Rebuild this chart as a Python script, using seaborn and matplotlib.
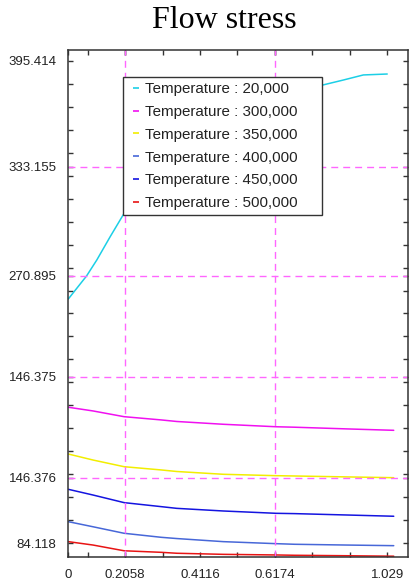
import numpy as np
import pandas as pd
import matplotlib
matplotlib.use("Agg")
import matplotlib.pyplot as plt
from matplotlib.lines import Line2D
import seaborn as sns

# Curves (strain vs flow stress)
strain = [0, 0.08, 0.18, 0.30, 0.35, 0.50, 0.67, 0.73, 0.90, 1.05]
stress_300 = [171.8, 169.4, 165.7, 163.6, 162.6, 160.8, 159.2, 158.9, 157.8, 156.9]
stress_350 = [141.6, 137.7, 133.4, 131.3, 130.3, 128.5, 127.6, 127.4, 126.8, 126.3]
stress_400 = [97.9, 94.6, 90.4, 87.8, 87.0, 85.0, 83.7, 83.3, 82.8, 82.4]
stress_450 = [118.8, 115.1, 110.2, 107.6, 106.5, 104.8, 103.3, 103.1, 102.2, 101.4]
stress_500 = [85.0, 82.8, 79.1, 78.1, 77.5, 76.8, 76.4, 76.2, 75.9, 75.6]

strain_20 = [0, 0.059, 0.092, 0.135, 0.177, 0.264, 0.360, 0.457, 0.555,
             0.651, 0.748, 0.821, 0.887, 0.952, 1.029]
stress_20 = [241.7, 256.6, 266.9, 281.9, 296.0, 318.6, 337.9, 353.4, 365.1,
             372.8, 377.3, 379.9, 383.1, 386.4, 387.0]

labels = ["Temperature : 20,000", "Temperature : 300,000", "Temperature : 350,000",
          "Temperature : 400,000", "Temperature : 450,000", "Temperature : 500,000"]
colors = ["#1ccfe6", "#f010f0", "#f2ee00", "#4767d8", "#1414e0", "#e81414"]

# tick labels as printed on the chart (positions don't follow the labels)
xtick_pos = [0, 0.1835, 0.4251, 0.6666, 1.029]
xtick_lab = ["0", "0.2058", "0.4116", "0.6174", "1.029"]
ytick_pos = [395.414, 327.15, 256.56, 191.52, 126.29, 84.118]
ytick_lab = ["395.414", "333.155", "270.895", "146.375", "146.376", "84.118"]
vgrid = [0.1835, 0.6666]
hgrid = [327.15, 256.56, 191.52, 126.29]

series = [(strain_20, stress_20), (strain, stress_300), (strain, stress_350),
          (strain, stress_400), (strain, stress_450), (strain, stress_500)]
df = pd.concat([pd.DataFrame({"strain": x, "stress": y, "curve": lab})
                for (x, y), lab in zip(series, labels)], ignore_index=True)

sns.set_theme(style="ticks")
plt.rcParams["font.family"] = ["Liberation Sans", "DejaVu Sans"]

fig = plt.figure(figsize=(4.2, 5.87), dpi=100)
ax = fig.add_axes([0.1626, 0.0516, 0.8081, 0.8632])

sns.lineplot(data=df, x="strain", y="stress", hue="curve", hue_order=labels,
             palette=colors, sort=False, estimator=None, linewidth=1.1,
             ax=ax, zorder=2, legend=False)

for xv in vgrid:
    ax.axvline(xv, color="#ff66ff", lw=1.0, ls=(0, (5, 3.6)), zorder=2.5)
for yv in hgrid:
    ax.axhline(yv, color="#ff66ff", lw=1.0, ls=(0, (5, 3.6)), zorder=2.5)

ax.set_xlim(0, 1.095)
ax.set_ylim(75.27, 402.5)
ax.set_xticks(xtick_pos)
ax.set_xticklabels(xtick_lab)
ax.set_yticks(ytick_pos)
ax.set_yticklabels(ytick_lab)
ax.set_xticks(list(1.029 - 0.12078 * np.arange(9)), minor=True)
ax.set_yticks(list(np.linspace(84.118, 395.414, 22)), minor=True)
ax.tick_params(which="both", direction="in", top=True, right=True,
               length=3.6, width=1.0, color="#333333")
ax.tick_params(which="major", labelsize=9.5, labelcolor="#222222", pad=8.5)
ax.set_xlabel("")
ax.set_ylabel("")
for sp in ax.spines.values():
    sp.set_color("#333333")
    sp.set_linewidth(1.1)

# short dash handles, like the original legend
handles = [Line2D([], [], ls="none", marker="_", markersize=4.2,
                  markeredgewidth=1.2, color=c) for c in colors]
leg = ax.legend(handles, labels, loc="upper left",
                bbox_to_anchor=(0.162, 0.5, 0.586, 0.447), mode="expand",
                borderaxespad=0, fontsize=10.9, handlelength=1.0,
                handletextpad=0.1, labelspacing=0.58, borderpad=0.35,
                fancybox=False, framealpha=1, edgecolor="#333333")
leg.get_frame().set_linewidth(1.0)
leg.set_zorder(5)
for t in leg.get_texts():
    t.set_color("#222222")

fig.text(0.533, 1 - 20 / 587, "Flow stress", ha="center", va="center",
         fontsize=23, color="black",
         family=["Liberation Serif", "DejaVu Serif"])

fig.savefig("out.png", dpi=100)
